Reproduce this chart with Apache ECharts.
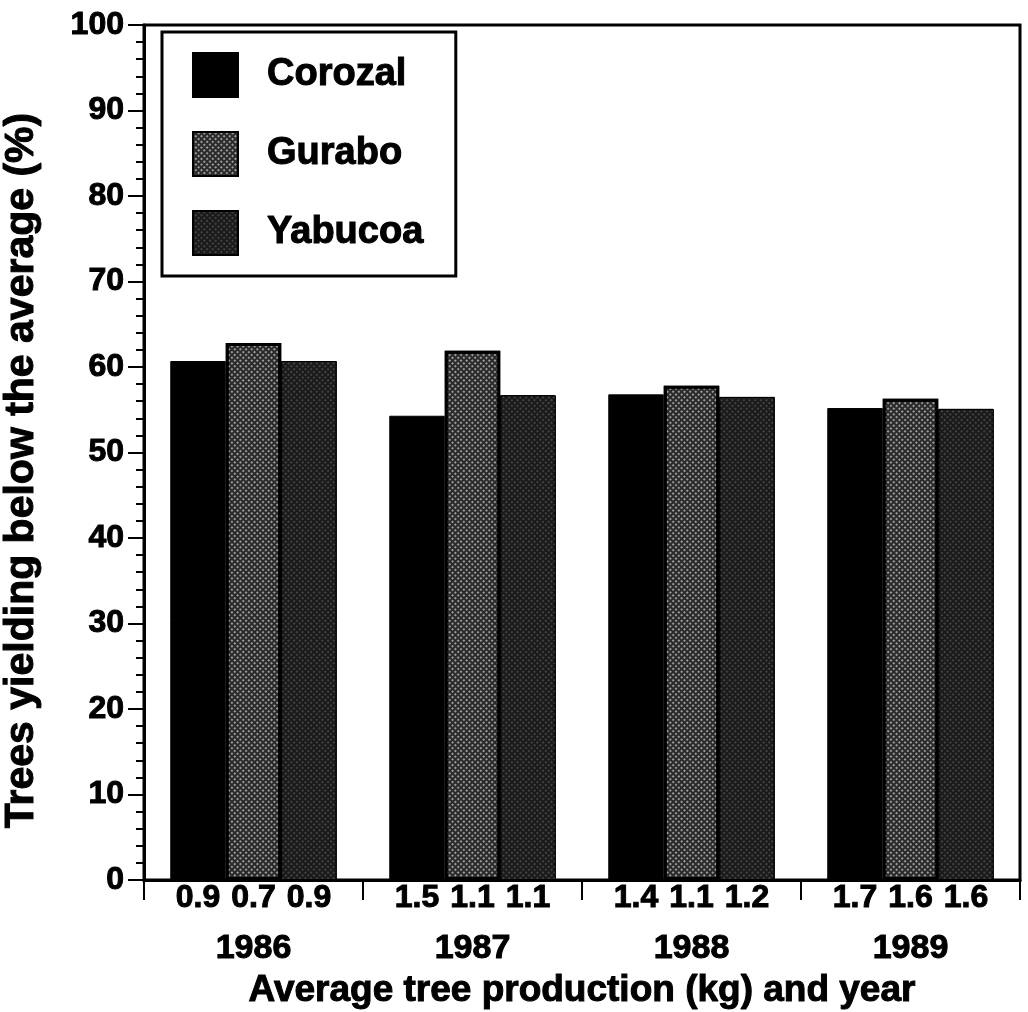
<!DOCTYPE html>
<html>
<head>
<meta charset="utf-8">
<script src="https://cdn.jsdelivr.net/npm/echarts@6/dist/echarts.min.js"></script>
<style>
html,body{margin:0;padding:0;background:#fff;}
#chart{width:1028px;height:1012px;}
</style>
</head>
<body>
<div id="chart"></div>
<script>
// ---- data ----
var years = ['1986', '1987', '1988', '1989'];
var seriesNames = ['Corozal', 'Gurabo', 'Yabucoa'];
var corozal = [60.7, 54.3, 56.8, 55.2];
var gurabo = [62.8, 61.9, 57.8, 56.3];
var yabucoa = [60.7, 56.7, 56.5, 55.1];
var prodCorozal = ['0.9', '1.5', '1.4', '1.7'];
var prodGurabo = ['0.7', '1.1', '1.1', '1.6'];
var prodYabucoa = ['0.9', '1.1', '1.2', '1.6'];
var yTicks = [0, 10, 20, 30, 40, 50, 60, 70, 80, 90, 100];

var FONT = '"Liberation Sans", Arial, Helvetica, sans-serif';
var chart = echarts.init(document.getElementById('chart'), null, {renderer: 'canvas'});

function txt(size, extra) {
  var o = {fontFamily: FONT, fontWeight: 'bold', fontSize: size, color: '#000',
           textBorderColor: '#000', textBorderWidth: 1};
  if (extra) { for (var k in extra) o[k] = extra[k]; }
  return o;
}

function barLabel(prod) {
  return txt(32, {show: true, position: 'bottom', distance: 2,
    formatter: function (p) { return prod[p.dataIndex]; }});
}

var decalGurabo = {
  symbol: 'circle', symbolSize: 0.95, color: 'rgba(255,255,255,0.75)',
  dashArrayX: [[2, 2]], dashArrayY: [2, 2], rotation: Math.PI / 4
};
var decalYabucoa = {
  symbol: 'circle', symbolSize: 0.8, color: 'rgba(255,255,255,0.4)',
  dashArrayX: [[2, 2]], dashArrayY: [2, 2], rotation: Math.PI / 4
};

var option = {
  backgroundColor: '#fff',
  animation: false,
  grid: {
    left: 144, right: 8, top: 25, bottom: 132,
    outerBoundsMode: 'none', containLabel: false,
    show: true, borderColor: '#000', borderWidth: 3, backgroundColor: 'transparent'
  },
  legend: {
    orient: 'vertical',
    left: 162, top: 32,
    data: seriesNames,
    itemWidth: 45, itemHeight: 44, itemGap: 33,
    padding: [20, 32, 20, 30],
    borderColor: '#000', borderWidth: 3,
    backgroundColor: '#fff',
    icon: 'rect',
    textStyle: txt(38, {padding: [0, 0, 0, 24]})
  },
  xAxis: {
    type: 'category',
    data: years,
    name: 'Average tree production (kg) and year',
    nameLocation: 'middle',
    nameGap: 90,
    nameTextStyle: txt(37),
    axisLine: {show: true, lineStyle: {color: '#000', width: 3}},
    axisTick: {show: true, length: 20, alignWithLabel: false, lineStyle: {color: '#000', width: 2}},
    axisLabel: txt(34, {margin: 52}),
    splitLine: {show: false}
  },
  yAxis: {
    type: 'value',
    min: 0, max: 100, interval: 10,
    name: 'Trees yielding below the average (%)',
    nameLocation: 'middle',
    nameRotate: 90,
    nameGap: 102,
    nameTextStyle: txt(41, {padding: [0, 36, 0, 0]}),
    axisLine: {show: true, lineStyle: {color: '#000', width: 3}},
    axisTick: {show: true, length: 16, lineStyle: {color: '#000', width: 2}},
    minorTick: {show: true, splitNumber: 5, length: 8, lineStyle: {color: '#000', width: 2}},
    axisLabel: txt(32, {margin: 20,
      formatter: function (v) { return yTicks.indexOf(v) >= 0 ? String(v) : ''; }}),
    splitLine: {show: false}
  },
  series: [
    {
      name: seriesNames[0], type: 'bar', data: corozal,
      barGap: '0%', barCategoryGap: '24%',
      itemStyle: {color: '#000', borderColor: '#000', borderWidth: 1},
      label: barLabel(prodCorozal)
    },
    {
      name: seriesNames[1], type: 'bar', data: gurabo,
      barGap: '0%', barCategoryGap: '24%',
      itemStyle: {color: '#2a2a2a', borderColor: '#000', borderWidth: 3, decal: decalGurabo},
      label: barLabel(prodGurabo)
    },
    {
      name: seriesNames[2], type: 'bar', data: yabucoa,
      barGap: '0%', barCategoryGap: '24%',
      itemStyle: {color: '#1a1a1a', borderColor: '#000', borderWidth: 1, decal: decalYabucoa},
      label: barLabel(prodYabucoa)
    }
  ]
};
chart.setOption(option);
</script>
</body>
</html>
